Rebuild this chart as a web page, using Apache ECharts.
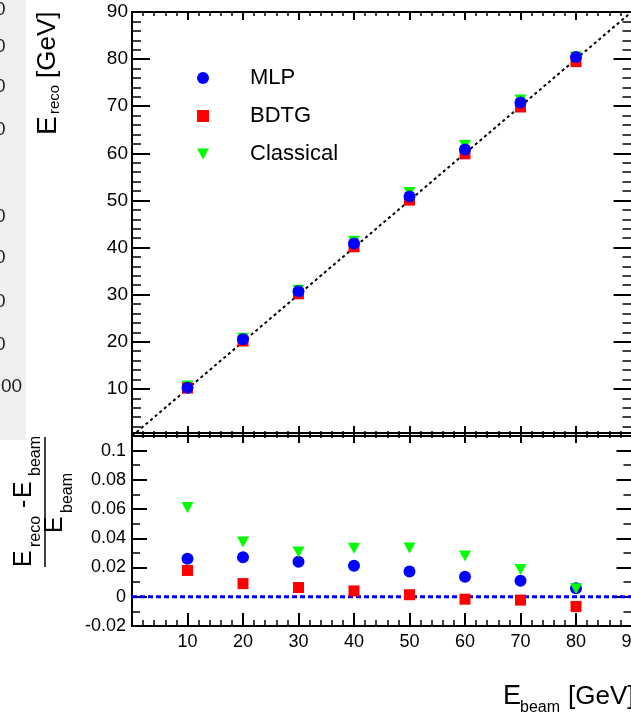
<!DOCTYPE html>
<html>
<head>
<meta charset="utf-8">
<script src="https://cdn.jsdelivr.net/npm/echarts@6/dist/echarts.min.js"></script>
<style>
  html, body { margin: 0; padding: 0; background: #fff; }
  #chart { width: 631px; height: 719px; }
</style>
</head>
<body>
<div id="chart"></div>
<script>
// Beam energies (GeV) and reconstructed energies per method
const beamEnergy = [10, 20, 30, 40, 50, 60, 70, 80];
const mlpReco = [10.26, 20.54, 30.72, 40.85, 50.86, 60.82, 70.77, 80.47];
const bdtgReco = [10.18, 20.18, 30.19, 40.16, 50.07, 59.90, 69.84, 79.47];
const classicalReco = [10.61, 20.75, 30.92, 41.33, 51.67, 61.67, 71.31, 80.44];

const methodNames = ['MLP', 'BDTG', 'Classical'];
const methodColors = ['#0000ff', '#ff0000', '#00ff00'];

// Partial tick labels of the neighbouring pad on the left
const sideLabels = [
  { t: '0', y: 10 }, { t: '0', y: 47 }, { t: '0', y: 87 }, { t: '0', y: 130 },
  { t: '0', y: 217 }, { t: '0', y: 258 }, { t: '0', y: 302 }, { t: '0', y: 345 },
  { t: '00', y: 387 }
];

const FONT = '"Liberation Sans", Arial, Helvetica, sans-serif';
const triDown = 'path://M0,0L12,0L6,11Z';

const pairs = (xs, ys) => xs.map((x, i) => [x, ys[i]]);
const ratio = (xs, ys) => xs.map((x, i) => [x, (ys[i] - x) / x]);

const chart = echarts.init(document.getElementById('chart'), null, { renderer: 'canvas' });

const tick = (len, minorLen, split) => ({
  axisTick: { show: true, inside: true, length: len, lineStyle: { color: '#000', width: 2 } },
  minorTick: { show: true, splitNumber: split, length: minorLen, lineStyle: { color: '#000', width: 1.5 } },
  axisLine: { show: true, onZero: false, lineStyle: { color: '#000', width: 2 } },
  splitLine: { show: false },
  minorSplitLine: { show: false }
});

const xBase = { type: 'value', min: 0, max: 90, interval: 10 };
const marker = color => ({ color: color, opacity: 1 });

const options = {
  animation: false,
  backgroundColor: '#fff',
  textStyle: { fontFamily: FONT },
  grid: [
    { left: 132, top: 12, width: 499.5, height: 424, containLabel: false, outerBoundsMode: 'none' },
    { left: 132, top: 433, width: 499.5, height: 193, containLabel: false, outerBoundsMode: 'none' }
  ],
  xAxis: [
    Object.assign({}, xBase, tick(10, 5, 5), { gridIndex: 0, position: 'bottom', axisLabel: { show: false } }),
    Object.assign({}, xBase, tick(8, 4, 5), { gridIndex: 0, position: 'top', axisLabel: { show: false } }),
    Object.assign({}, xBase, tick(13, 6, 5), {
      gridIndex: 1, position: 'bottom',
      axisLabel: {
        show: true, margin: 7, fontSize: 18, color: '#000', fontFamily: FONT, hideOverlap: false,
        formatter: v => (v === 0 ? '' : String(v))
      }
    }),
    Object.assign({}, xBase, tick(10, 5, 5), { gridIndex: 1, position: 'top', axisLabel: { show: false } })
  ],
  yAxis: [
    Object.assign({ type: 'value', min: 0, max: 90, interval: 10 }, tick(18, 9, 5), {
      gridIndex: 0, position: 'left',
      axisLabel: {
        show: true, margin: 4, fontSize: 19, color: '#000', fontFamily: FONT,
        formatter: v => (v === 0 ? '' : String(v))
      }
    }),
    Object.assign({ type: 'value', min: 0, max: 90, interval: 10 }, tick(18, 9, 5), {
      gridIndex: 0, position: 'right', axisLabel: { show: false }
    }),
    Object.assign({ type: 'value', min: -0.02, max: 0.112, interval: 0.02 }, tick(15, 8, 2), {
      gridIndex: 1, position: 'left',
      axisLabel: {
        show: true, margin: 6, fontSize: 18, color: '#000', fontFamily: FONT, showMaxLabel: false,
        formatter: v => {
          const r = Math.round(v * 1000) / 1000;
          return Math.abs(Math.round(r / 0.02) * 0.02 - r) < 1e-6 ? String(r) : '';
        }
      }
    }),
    Object.assign({ type: 'value', min: -0.02, max: 0.112, interval: 0.02 }, tick(15, 8, 2), {
      gridIndex: 1, position: 'right', axisLabel: { show: false }
    })
  ],
  legend: {
    data: methodNames,
    orient: 'vertical',
    left: 192,
    top: 61,
    itemWidth: 12,
    itemHeight: 12,
    itemGap: 14,
    selectedMode: false,
    textStyle: { fontSize: 22, color: '#000', fontFamily: FONT, lineHeight: 24, padding: [0, 0, 0, 36] }
  },
  series: [
    // Upper pad: reconstructed vs beam energy, with the E_reco = E_beam diagonal
    {
      type: 'line', xAxisIndex: 0, yAxisIndex: 0, data: [[0, 0], [90, 90]],
      symbol: 'none', silent: true, z: 1,
      lineStyle: { color: '#000', width: 2, type: [3, 3] }
    },
    {
      name: 'Classical', type: 'scatter', xAxisIndex: 0, yAxisIndex: 0, z: 2,
      data: pairs(beamEnergy, classicalReco), symbol: triDown, symbolSize: [12, 11],
      itemStyle: marker(methodColors[2])
    },
    {
      name: 'BDTG', type: 'scatter', xAxisIndex: 0, yAxisIndex: 0, z: 3,
      data: pairs(beamEnergy, bdtgReco), symbol: 'rect', symbolSize: 11,
      itemStyle: marker(methodColors[1])
    },
    {
      name: 'MLP', type: 'scatter', xAxisIndex: 0, yAxisIndex: 0, z: 4,
      data: pairs(beamEnergy, mlpReco), symbol: 'circle', symbolSize: 12,
      itemStyle: marker(methodColors[0])
    },
    // Lower pad: relative deviation (E_reco - E_beam) / E_beam
    {
      type: 'line', xAxisIndex: 2, yAxisIndex: 2, data: [[0, 0], [90, 0]],
      symbol: 'none', silent: true, z: 1,
      lineStyle: { color: '#0000ff', width: 3, type: [5, 3] }
    },
    {
      name: 'MLP', type: 'scatter', xAxisIndex: 2, yAxisIndex: 2, z: 2,
      data: ratio(beamEnergy, mlpReco), symbol: 'circle', symbolSize: 12,
      itemStyle: marker(methodColors[0])
    },
    {
      name: 'BDTG', type: 'scatter', xAxisIndex: 2, yAxisIndex: 2, z: 3,
      data: ratio(beamEnergy, bdtgReco), symbol: 'rect', symbolSize: 11,
      itemStyle: marker(methodColors[1])
    },
    {
      name: 'Classical', type: 'scatter', xAxisIndex: 2, yAxisIndex: 2, z: 4,
      data: ratio(beamEnergy, classicalReco), symbol: triDown, symbolSize: [12, 11],
      itemStyle: marker(methodColors[2])
    }
  ],
  graphic: []
};

// Neighbouring pad strip on the left edge
const g = options.graphic;
g.push({ type: 'rect', left: 0, top: 0, shape: { x: 0, y: 0, width: 26, height: 440 }, style: { fill: '#efefef' }, z: -10 });
sideLabels.forEach(s => {
  g.push({
    type: 'text', x: s.t.length > 1 ? 1 : -5, y: s.y, z: -9,
    style: { text: s.t, fontSize: 19, fill: '#222', font: '19px ' + FONT, align: 'left', verticalAlign: 'middle' }
  });
});

// Rotated text piece: reads bottom-to-top, starting at screen y0, centred on screen x
const vText = (text, x, y0, size) => ({
  type: 'text', x: x, y: y0, rotation: Math.PI / 2,
  style: { text: text, font: size + 'px ' + FONT, fill: '#000', align: 'left', verticalAlign: 'middle' }
});
const hText = (text, x, y, size) => ({
  type: 'text', x: x, y: y,
  style: { text: text, font: size + 'px ' + FONT, fill: '#000', align: 'left', verticalAlign: 'middle' }
});

// Upper y title: E_reco [GeV]
g.push(vText('E', 48, 135, 28));
g.push(vText('reco', 55, 114, 15));
g.push(vText('[GeV]', 48, 78, 26));

// Lower y title: (E_reco - E_beam) / E_beam
g.push(vText('E', 24, 567, 25));
g.push(vText('reco', 36, 547, 16));
g.push(vText('-', 24, 508, 25));
g.push(vText('E', 24, 498, 25));
g.push(vText('beam', 36, 476, 16));
g.push({ type: 'line', shape: { x1: 45, y1: 437, x2: 45, y2: 567 }, style: { stroke: '#000', lineWidth: 1.5 } });
g.push(vText('E', 55, 533, 25));
g.push(vText('beam', 68, 513, 16));

// x title: E_beam [GeV]
g.push(hText('E', 503, 697, 27));
g.push(hText('beam', 520, 708, 16));
g.push(hText('[GeV]', 568, 697, 26));

chart.setOption(options);
</script>
</body>
</html>
